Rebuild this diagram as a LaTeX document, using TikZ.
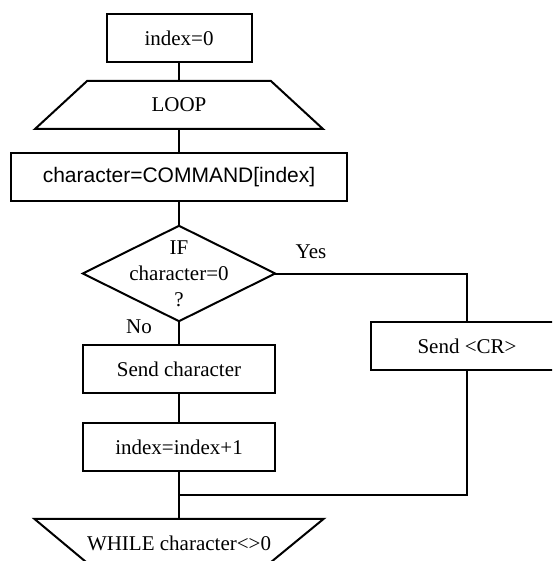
\documentclass[tikz,border=0pt]{standalone}
\usepackage{fontspec}
\setmainfont{Liberation Serif}
\newfontfamily\arialfont{Liberation Sans}
\begin{document}
\begin{tikzpicture}[x=1pt,y=-1pt,
  every node/.style={font=\fontsize{21}{26}\selectfont},
  conn/.style={draw,line width=2pt},
  procbox/.style={draw,line width=2pt,rectangle,minimum height=48pt,inner sep=0pt},
  blank/.style={rectangle,inner sep=0pt,align=center},
  lbl/.style={inner sep=0pt}]
\useasboundingbox (0,0) rectangle (552,561);
\clip (0,0) rectangle (552,561);
% nodes
\node[procbox,minimum width=145pt] (i0) at (179,38) {index=0};
\node[blank,minimum width=183pt,minimum height=48pt] (loop) at (179,105) {LOOP};
\path[conn] (35,129) -- (loop.north west) -- (loop.north east) -- (323,129) -- cycle;
\node[procbox,minimum width=336pt,font=\arialfont\fontsize{21}{26}\selectfont] (cmd) at (179,177) {character=COMMAND[index]};
\node[blank,minimum width=192pt,minimum height=95pt] (dia) at (179,273.5) {IF\\character=0\\?};
\path[conn,line join=miter] (dia.north) -- (dia.east) -- (dia.south) -- (dia.west) -- cycle;
\node[lbl] (yes) at (311,252) {Yes};
\node[lbl] (no) at (139,327) {No};
\node[procbox,minimum width=192pt] (cr) at (467,346) {Send <CR>};
\node[procbox,minimum width=192pt] (sc) at (179,369) {Send character};
\node[procbox,minimum width=192pt] (inc) at (179,447) {index=index+1};
\node[blank,minimum width=289pt,minimum height=48pt] (wh) at (179,543) {WHILE character<>0};
\path[conn] (wh.north west) -- (wh.north east) -- (265,567) -- (92,567) -- cycle;
\coordinate (j) at (179,495);
% connectors
\path[conn] (i0.south) -- (loop.north);
\path[conn] (loop.south) -- (cmd.north);
\path[conn] (cmd.south) -- (dia.north);
\path[conn] (dia.east) -| (cr.north);
\path[conn] (dia.south) -- (sc.north);
\path[conn] (sc.south) -- (inc.north);
\path[conn] (inc.south) -- (wh.north);
\path[conn] (cr.south) |- (j);
\end{tikzpicture}
\end{document}
